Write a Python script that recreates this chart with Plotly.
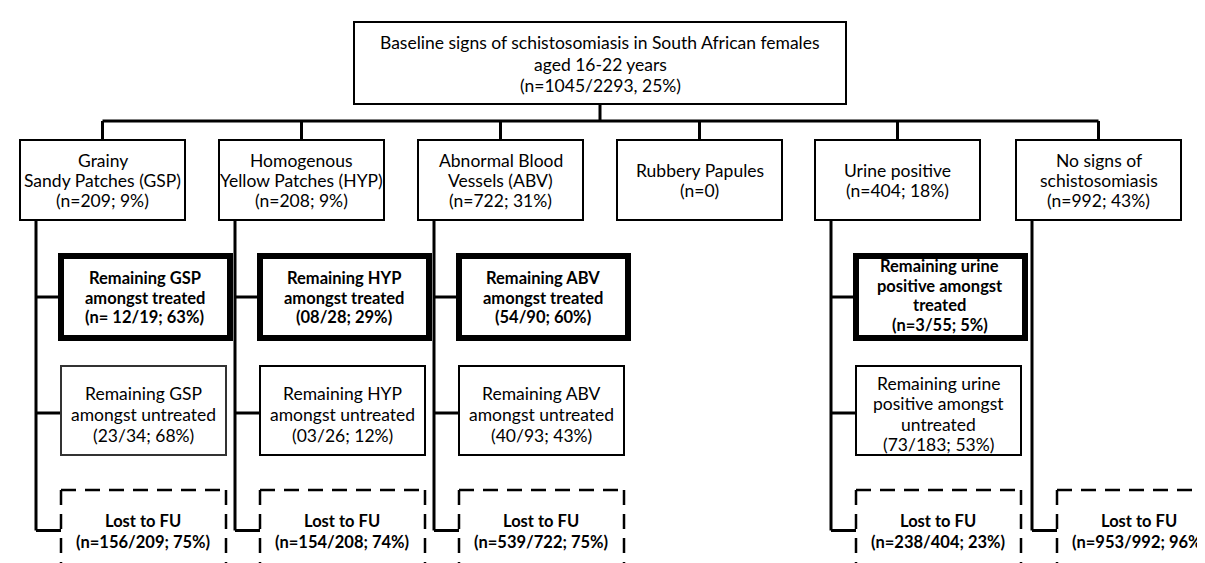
import plotly.graph_objects as go

# ---------------- data ----------------
root_text = ["Baseline signs of schistosomiasis in South African females",
             "aged 16-22 years", "(n=1045/2293, 25%)"]

categories = [["Grainy", "Sandy Patches (GSP)"], ["Homogenous", "Yellow Patches (HYP)"],
              ["Abnormal Blood", "Vessels (ABV)"], ["Rubbery Papules"], ["Urine positive"],
              ["No signs of", "schistosomiasis"]]
category_counts = ["(n=209; 9%)", "(n=208; 9%)", "(n=722; 31%)", "(n=0)",
                   "(n=404; 18%)", "(n=992; 43%)"]

treated_labels = [["Remaining GSP", "amongst treated"], ["Remaining HYP", "amongst treated"],
                  ["Remaining ABV", "amongst treated"], None,
                  ["Remaining urine", "positive amongst", "treated"], None]
treated_counts = ["(n= 12/19; 63%)", "(08/28; 29%)", "(54/90; 60%)", None,
                  "(n=3/55; 5%)", None]

untreated_labels = [["Remaining GSP", "amongst untreated"], ["Remaining HYP", "amongst untreated"],
                    ["Remaining ABV", "amongst untreated"], None,
                    ["Remaining urine", "positive amongst", "untreated"], None]
untreated_counts = ["(23/34; 68%)", "(03/26; 12%)", "(40/93; 43%)", None,
                    "(73/183; 53%)", None]

lost_label = "Lost to FU"
lost_counts = ["(n=156/209; 75%)", "(n=154/208; 74%)", "(n=539/722; 75%)", None,
               "(n=238/404; 23%)", "(n=953/992; 96%)"]

# ---------------- layout geometry (pixels) ----------------
W, H = 1205, 563
col_left = [12, 211, 410, 609, 807, 1008]
col_w = 165
root_box = (346, 838, 14, 96)
bus_y = 113
lvl1_y = (132, 212)
treated_y = (248, 330)
untreated_y = (358, 447)
lost_y = (482, 561)
branch_off = 16
child_off = 25
child_w = 165
treated_off = 22      # outer left edge of thick box from branch line
treated_w = 175       # outer width of thick box
THICK = 6
LINE_H = 20.5

FONT = "Lato"
FS = 17.5
FS_BOLD = 16.5

shapes = []
annotations = []


def rect(x0, x1, y0, y1, width=2, dash=None, color="black"):
    shapes.append(dict(type="rect", x0=x0, x1=x1, y0=y0, y1=y1, xref="x", yref="y",
                       line=dict(color=color, width=width, dash=dash),
                       fillcolor="rgba(0,0,0,0)", layer="above"))


def line(x0, y0, x1, y1, width=3, color="black", dash=None):
    shapes.append(dict(type="line", x0=x0, x1=x1, y0=y0, y1=y1, xref="x", yref="y",
                       line=dict(color=color, width=width, dash=dash), layer="above"))


def label(x, yc, lines, bold=False, spacing=LINE_H):
    n = len(lines)
    for k, t in enumerate(lines):
        y = yc + (k - (n - 1) / 2) * spacing
        txt = "<b>" + t + "</b>" if bold else t
        annotations.append(dict(x=x, y=y, xref="x", yref="y", text=txt, showarrow=False,
                                font=dict(family=FONT, size=FS_BOLD if bold else FS,
                                          color="black"),
                                xanchor="center", yanchor="middle", align="center"))


# root
rect(root_box[0], root_box[1], root_box[2], root_box[3])
root_cx = (root_box[0] + root_box[1]) / 2
label(root_cx, 56, root_text, spacing=21.5)
line(root_cx, root_box[3], root_cx, bus_y)

centers = [l + col_w / 2 for l in col_left]
line(centers[0], bus_y, centers[-1], bus_y)

for i, left in enumerate(col_left):
    cx = centers[i]
    line(cx, bus_y, cx, lvl1_y[0])
    rect(left, left + col_w, lvl1_y[0], lvl1_y[1])
    label(cx, 172, categories[i] + [category_counts[i]], spacing=20)

    if lost_counts[i] is None:
        continue
    bx = left + branch_off
    stub_lost = 522.5
    line(bx, lvl1_y[1], bx, stub_lost)
    c0 = bx + child_off
    c1 = c0 + child_w
    ccx = (c0 + c1) / 2

    if treated_labels[i] is not None:
        ty = (treated_y[0] + treated_y[1]) / 2
        t0 = bx + treated_off + THICK / 2
        t1 = bx + treated_off + treated_w - THICK / 2
        line(bx, ty, t0, ty)
        rect(t0, t1, treated_y[0], treated_y[1], width=THICK)
        lines = treated_labels[i] + [treated_counts[i]]
        label((t0 + t1) / 2 - 1, ty + 0.5 if len(lines) == 3 else ty - 1.5, lines,
              bold=True, spacing=19.5)

    if untreated_labels[i] is not None:
        uy = 405
        line(bx, uy, c0, uy)
        rect(c0, c1, untreated_y[0], untreated_y[1], width=2,
             color="#333333" if i == 0 else "black")
        lines = untreated_labels[i] + [untreated_counts[i]]
        label(ccx, 406, lines, spacing=21 if len(lines) == 3 else 20.5)

    # lost to follow-up (dashed, cropped at bottom)
    line(bx, stub_lost, c0, stub_lost)
    dash = "15px,9px"
    line(c0, lost_y[0], c1, lost_y[0], width=2.5, dash=dash)
    line(c0, lost_y[0], c0, lost_y[1], width=2.5, dash=dash)
    line(c1, lost_y[0], c1, lost_y[1], width=2.5, dash=dash)
    line(c0, lost_y[1], c1, lost_y[1], width=2.5, dash=dash, color="#cfcfcf")
    label(ccx - 0.5, 523.5, [lost_label, lost_counts[i]], bold=True, spacing=21)

fig = go.Figure()
fig.update_layout(
    width=W, height=H,
    margin=dict(l=0, r=0, t=0, b=0),
    paper_bgcolor="white", plot_bgcolor="white",
    xaxis=dict(range=[0, W], visible=False, fixedrange=True),
    yaxis=dict(range=[H, 0], visible=False, fixedrange=True),
    shapes=shapes, annotations=annotations,
    showlegend=False,
)
fig.write_html("out.html")
